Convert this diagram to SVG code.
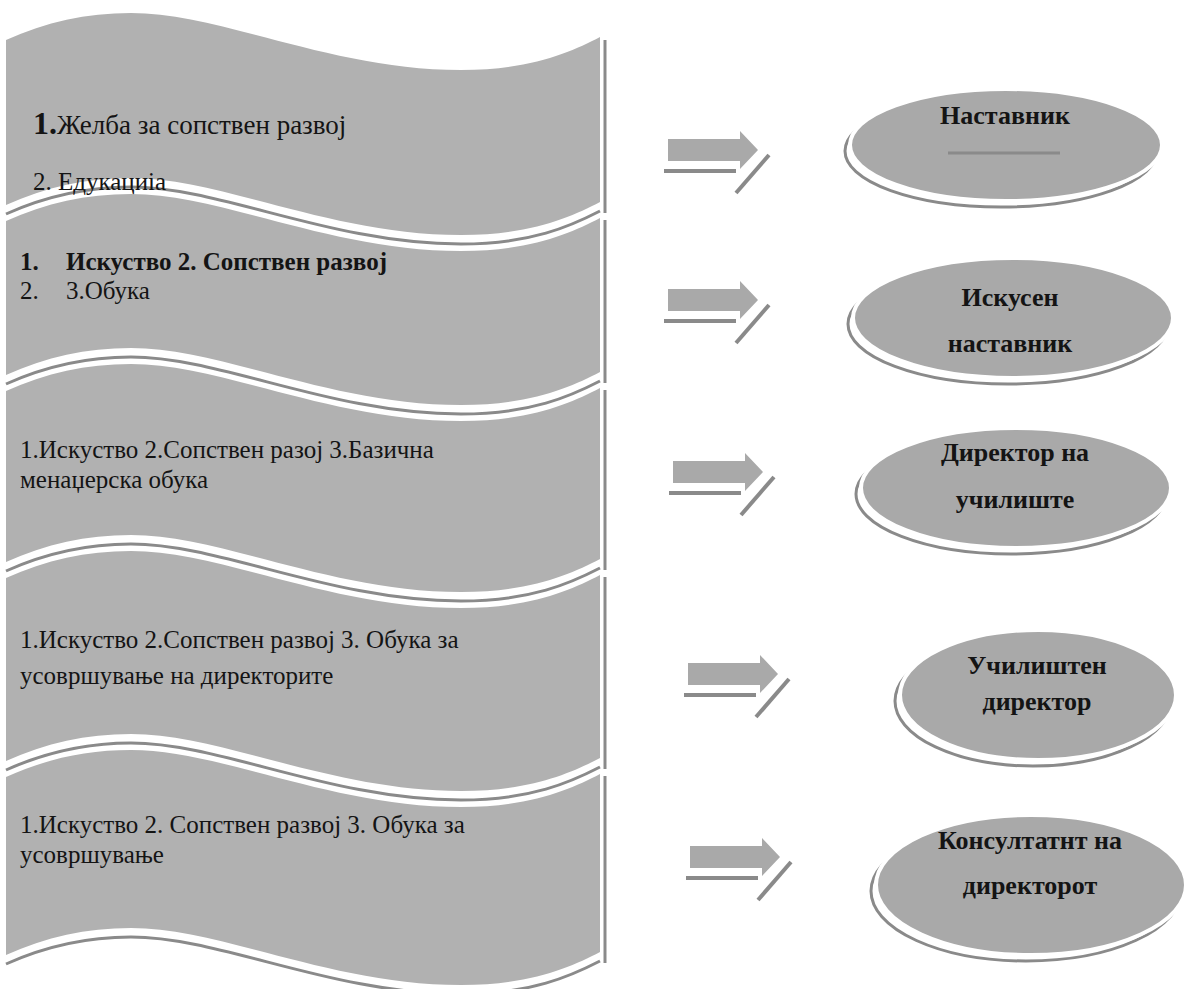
<svg xmlns="http://www.w3.org/2000/svg" width="1196" height="989" viewBox="0 0 1196 989">
<style>
.bn{fill:#b1b1b1;}
.sh{fill:none;stroke:#8a8a8a;stroke-width:3;}
.el{fill:#a9a9a9;stroke:#ffffff;stroke-width:4;}
.els{fill:none;stroke:#8a8a8a;stroke-width:3;}
.ar{fill:#a9a9a9;}
.arl{fill:none;stroke:#8a8a8a;stroke-width:4;}
.t{font-family:"Liberation Serif","Times New Roman",serif;font-size:25px;fill:#141414;}
.tb{font-weight:bold;}
.et{font-family:"Liberation Serif","Times New Roman",serif;font-size:26px;font-weight:bold;fill:#141414;text-anchor:middle;}
</style>
<defs>
<g id="arrow">
<path class="ar" d="M0,-11 H72 V-19 L90,0 L72,19 V11 H0 Z"/>
<path class="arl" d="M-4,21 H68"/>
<path class="arl" d="M68,43 L101,5"/>
</g>
</defs>
<rect width="1196" height="989" fill="#ffffff"/>

<g id="banner1">
<path class="bn" d="M6,40 C46,22 86,13 131,13 C221,13 331,70 461,70 C531,70 571,52 600,37 L600,202 C571,217 531,235 461,235 C331,235 221,178 131,178 C86,178 46,187 6,205 Z"/>
<path class="sh" d="M6,214 C46,196 86,187 131,187 C221,187 331,244 461,244 C531,244 571,226 600,211"/>
<path class="sh" d="M605,40 V213"/>
<text class="t" x="33" y="134"><tspan class="tb" font-size="32">1.</tspan><tspan font-size="27">Желба за сопствен развој</tspan></text>
<text class="t" x="33" y="190">2. Едукациіа</text>
</g>

<g id="banner2">
<path class="bn" d="M6,221 C46,203 86,194 131,194 C221,194 331,251 461,251 C531,251 571,233 600,218 L600,372 C571,387 531,405 461,405 C331,405 221,348 131,348 C86,348 46,357 6,375 Z"/>
<path class="sh" d="M6,384 C46,366 86,357 131,357 C221,357 331,414 461,414 C531,414 571,396 600,381"/>
<path class="sh" d="M605,220 V383"/>
<text class="t tb" x="20" y="270">1.</text>
<text class="t tb" x="66" y="270">Искуство 2. Сопствен развој</text>
<text class="t" x="20" y="299">2.</text>
<text class="t" x="66" y="299">3.Обука</text>
</g>

<g id="banner3">
<path class="bn" d="M6,391 C46,373 86,364 131,364 C221,364 331,421 461,421 C531,421 571,403 600,388 L600,559 C571,574 531,592 461,592 C331,592 221,535 131,535 C86,535 46,544 6,562 Z"/>
<path class="sh" d="M6,571 C46,553 86,544 131,544 C221,544 331,601 461,601 C531,601 571,583 600,568"/>
<path class="sh" d="M605,390 V570"/>
<text class="t" x="20" y="458">1.Искуство  2.Сопствен разој 3.Базична</text>
<text class="t" x="20" y="488">менаџерска обука</text>
</g>

<g id="banner4">
<path class="bn" d="M6,578 C46,560 86,551 131,551 C221,551 331,608 461,608 C531,608 571,590 600,575 L600,758 C571,773 531,791 461,791 C331,791 221,734 131,734 C86,734 46,743 6,761 Z"/>
<path class="sh" d="M6,770 C46,752 86,743 131,743 C221,743 331,800 461,800 C531,800 571,782 600,767"/>
<path class="sh" d="M605,577 V769"/>
<text class="t" x="20" y="648">1.Искуство 2.Сопствен развој 3. Обука за</text>
<text class="t" x="20" y="684">усовршување на директорите</text>
</g>

<g id="banner5">
<path class="bn" d="M6,777 C46,759 86,750 131,750 C221,750 331,807 461,807 C531,807 571,789 600,774 L600,952 C571,967 531,985 461,985 C331,985 221,928 131,928 C86,928 46,937 6,955 Z"/>
<path class="sh" d="M6,964 C46,946 86,937 131,937 C221,937 331,994 461,994 C531,994 571,976 600,961"/>
<path class="sh" d="M605,776 V963"/>
<text class="t" x="20" y="833">1.Искуство 2. Сопствен развој 3. Обука за</text>
<text class="t" x="20" y="863">усовршување</text>
</g>

<g id="connectors">
<use href="#arrow" x="668" y="150"/>
<use href="#arrow" x="668" y="300"/>
<use href="#arrow" x="673" y="472"/>
<use href="#arrow" x="688" y="674"/>
<use href="#arrow" x="690" y="857"/>
</g>

<g id="node1">
<ellipse class="els" cx="1001" cy="151" rx="156" ry="56"/>
<ellipse class="el" cx="1006" cy="145" rx="156" ry="56"/>
<path d="M948,153 H1060" stroke="#8a8a8a" stroke-width="3"/>
<text class="et" x="1005" y="124">Наставник</text>
</g>

<g id="node2">
<ellipse class="els" cx="1008" cy="324" rx="160" ry="60"/>
<ellipse class="el" cx="1013" cy="318" rx="160" ry="60"/>
<text class="et" x="1010" y="306">Искусен</text>
<text class="et" x="1010" y="352">наставник</text>
</g>

<g id="node3">
<ellipse class="els" cx="1011" cy="494" rx="155" ry="60"/>
<ellipse class="el" cx="1016" cy="488" rx="155" ry="60"/>
<text class="et" x="1015" y="461">Директор на</text>
<text class="et" x="1015" y="508">училиште</text>
</g>

<g id="node4">
<ellipse class="els" cx="1033" cy="701" rx="138" ry="65"/>
<ellipse class="el" cx="1038" cy="695" rx="138" ry="65"/>
<text class="et" x="1037" y="674">Училиштен</text>
<text class="et" x="1037" y="710">директор</text>
</g>

<g id="node5">
<ellipse class="els" cx="1026" cy="891" rx="155" ry="70"/>
<ellipse class="el" cx="1031" cy="885" rx="155" ry="70"/>
<text class="et" x="1030" y="849">Консултатнт на</text>
<text class="et" x="1030" y="894">директорот</text>
</g>
</svg>
